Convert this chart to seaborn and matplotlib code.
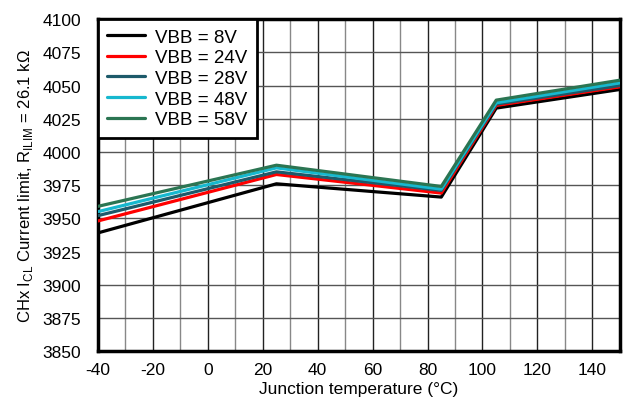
import numpy as np
import pandas as pd
import seaborn as sns
import matplotlib.pyplot as plt
from matplotlib.ticker import MultipleLocator

# junction temperature points (°C)
temps = [-40, 25, 85, 105, 150]

# current limit readings (mA) for each supply voltage
vbb_8 = [3939, 3976, 3966, 4033, 4047]
vbb_24 = [3948, 3983, 3969, 4035, 4049]
vbb_28 = [3952, 3985, 3971, 4036, 4050]
vbb_48 = [3955, 3988, 3972, 4037, 4052]
vbb_58 = [3959, 3990, 3974, 4039, 4054]

labels = ['VBB = 8V', 'VBB = 24V', 'VBB = 28V', 'VBB = 48V', 'VBB = 58V']
series = [vbb_8, vbb_24, vbb_28, vbb_48, vbb_58]
colors = ['#000000', '#ff0000', '#1d5a6a', '#17b8cf', '#2b7552']

rows = []
for lab, vals in zip(labels, series):
    for t, v in zip(temps, vals):
        rows.append({'temp': t, 'ilim': v, 'VBB': lab})
df = pd.DataFrame(rows)

sns.set_style('white')
plt.rcParams['font.family'] = ['Liberation Sans', 'DejaVu Sans']
plt.rcParams['axes.unicode_minus'] = False
plt.rcParams['text.color'] = 'black'
plt.rcParams['axes.labelcolor'] = 'black'
plt.rcParams['xtick.color'] = 'black'
plt.rcParams['ytick.color'] = 'black'

fig = plt.figure(figsize=(6.23, 4.02), dpi=100)
ax = fig.add_axes([0.157, 0.124, 0.838, 0.826])

sns.lineplot(data=df, x='temp', y='ilim', hue='VBB', palette=colors,
             linewidth=2.3, ax=ax, legend=True, zorder=3)

ax.set_xlim(-40, 150)
ax.set_ylim(3850, 4100)
ax.xaxis.set_major_locator(MultipleLocator(20))
ax.xaxis.set_minor_locator(MultipleLocator(10))
ax.yaxis.set_major_locator(MultipleLocator(25))

ax.grid(which='major', axis='x', color='#222222', linewidth=1.0)
ax.grid(which='minor', axis='x', color='#888888', linewidth=1.0)
ax.grid(which='major', axis='y', color='#555555', linewidth=1.0)
ax.tick_params(which='both', length=0, labelsize=12.5)
ax.tick_params(axis='x', pad=8)
ax.tick_params(axis='y', pad=12)

for s in ax.spines.values():
    s.set_color('black')
    s.set_linewidth(2.5)

ax.set_xlabel('Junction temperature (°C)', fontsize=12.5, labelpad=3)
ax.set_ylabel('CHx I$_{\\mathregular{CL}}$ Current limit, R$_{\\mathregular{ILIM}}$ = 26.1 kΩ',
              fontsize=12, labelpad=5)

leg = ax.legend(loc='upper left', fontsize=13.5, frameon=True, fancybox=False,
                borderaxespad=0, handlelength=2.0, labelspacing=0.19,
                borderpad=0.5, handletextpad=0.55)
leg.get_frame().set_edgecolor('black')
leg.get_frame().set_linewidth(2.0)
leg.get_frame().set_alpha(1)
for line in leg.get_lines():
    line.set_linewidth(2.3)

fig.savefig('out.png', dpi=100)
